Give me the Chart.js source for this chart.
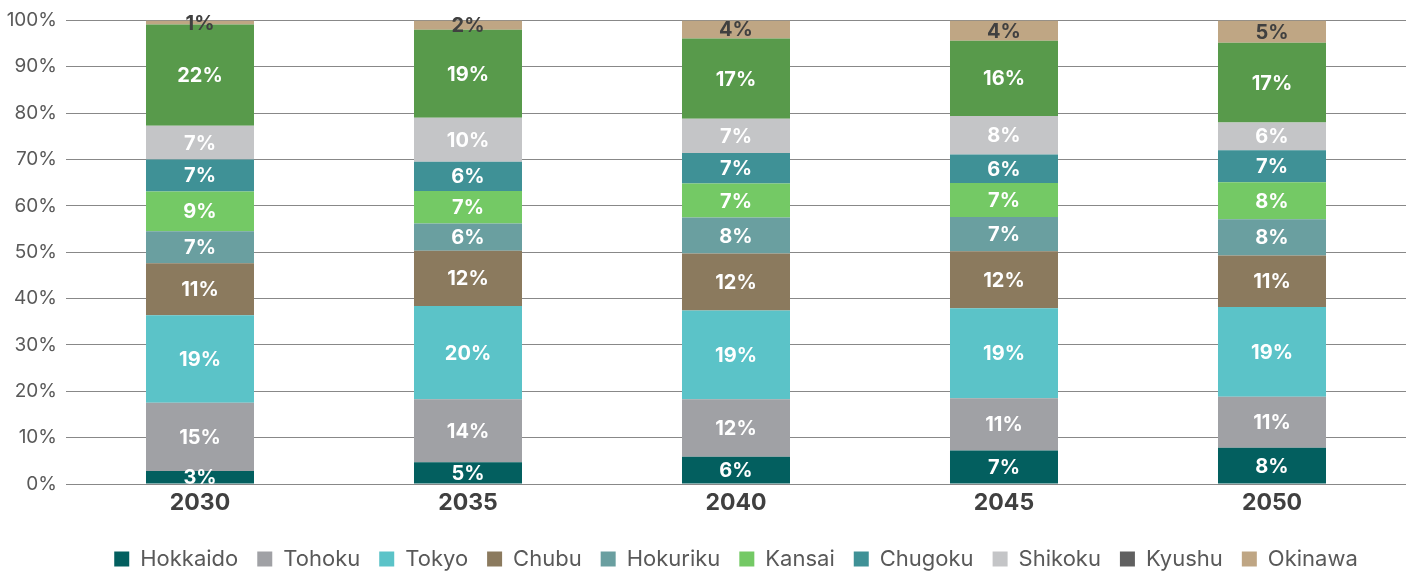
<!DOCTYPE html>
<html>
<head>
<meta charset="utf-8">
<script src="https://cdn.jsdelivr.net/npm/chart.js@4.4.1/dist/chart.umd.min.js"></script>
<style>
  html, body { margin: 0; padding: 0; background: #ffffff; }
  #wrap { width: 1416px; height: 574px; }
</style>
</head>
<body>
<div id="wrap"><canvas id="shareChart" width="1416" height="574"></canvas></div>
<script>
// Regional share per year (%), stacked to 100
const years = ['2030', '2035', '2040', '2045', '2050'];
const regions = ['Hokkaido', 'Tohoku', 'Tokyo', 'Chubu', 'Hokuriku', 'Kansai', 'Chugoku', 'Shikoku', 'Kyushu', 'Okinawa'];

const hokkaido = [2.8, 4.7, 5.9, 7.2, 7.8];
const tohoku   = [14.7, 13.6, 12.4, 11.3, 11.0];
const tokyo    = [18.9, 20.1, 19.1, 19.4, 19.4];
const chubu    = [11.2, 11.9, 12.3, 12.3, 11.1];
const hokuriku = [6.9, 5.9, 7.8, 7.4, 7.8];
const kansai   = [8.6, 7.0, 7.3, 7.3, 8.0];
const chugoku  = [6.9, 6.3, 6.6, 6.2, 6.9];
const shikoku  = [7.3, 9.5, 7.4, 8.3, 6.0];
const kyushu   = [21.8, 19.0, 17.3, 16.2, 17.2];
const okinawa  = [0.9, 2.0, 3.9, 4.4, 4.8];

const yTicks = [0, 10, 20, 30, 40, 50, 60, 70, 80, 90, 100];

const seriesValues = [hokkaido, tohoku, tokyo, chubu, hokuriku, kansai, chugoku, shikoku, kyushu, okinawa];
const barColors    = ['#035f5f', '#a0a1a5', '#5bc3c8', '#8b7a5e', '#6a9fa0', '#74c965', '#3f9196', '#c4c5c7', '#589a4b', '#bfa684'];
const legendColors = ['#035f5f', '#a0a1a5', '#5bc3c8', '#8b7a5e', '#6a9fa0', '#74c965', '#3f9196', '#c4c5c7', '#606060', '#bfa684'];
const labelColors  = ['#ffffff', '#ffffff', '#ffffff', '#ffffff', '#ffffff', '#ffffff', '#ffffff', '#ffffff', '#ffffff', '#404040'];

const datasets = regions.map((name, i) => ({
    label: name,
    data: seriesValues[i],
    backgroundColor: barColors[i],
    legendColor: legendColors[i],
    labelColor: labelColors[i],
    borderWidth: 0,
    categoryPercentage: 1.0,
    barPercentage: 0.403
}));

// percentage labels in the middle of each segment
const segmentLabels = {
    id: 'segmentLabels',
    afterDatasetsDraw(chart) {
        const ctx = chart.ctx;
        ctx.save();
        ctx.font = 'bold 20px Inter, "Noto Sans", sans-serif';
        ctx.textAlign = 'center';
        ctx.textBaseline = 'middle';
        chart.data.datasets.forEach((ds, i) => {
            const meta = chart.getDatasetMeta(i);
            meta.data.forEach((bar, j) => {
                const v = ds.data[j];
                const yMid = (bar.y + bar.base) / 2;
                ctx.fillStyle = ds.labelColor;
                ctx.fillText(Math.round(v) + '%', bar.x, yMid + 1);
            });
        });
        ctx.restore();
    }
};

const ctx = document.getElementById('shareChart').getContext('2d');
new Chart(ctx, {
    type: 'bar',
    data: { labels: years, datasets: datasets },
    options: {
        responsive: false,
        animation: false,
        layout: { padding: { top: 20, right: 10, left: 0, bottom: -6 } },
        scales: {
            x: {
                stacked: true,
                afterFit(scale) { scale.height = 45; },
                grid: { display: false, drawTicks: false },
                border: { display: false },
                ticks: {
                    color: '#404040',
                    font: { family: 'Inter, "Noto Sans", sans-serif', size: 23, weight: 'bold' },
                    padding: 5
                }
            },
            y: {
                stacked: true,
                min: 0,
                max: 100,
                afterBuildTicks(scale) {
                    scale.ticks = yTicks.map(v => ({ value: v }));
                },
                afterFit(scale) { scale.width = 66; },
                grid: { color: '#888888', lineWidth: 1, drawTicks: false },
                border: { display: false },
                ticks: {
                    color: '#595959',
                    padding: 9,
                    font: { family: 'Inter, "Noto Sans", sans-serif', size: 19 },
                    callback: v => v + '%'
                }
            }
        },
        plugins: {
            tooltip: { enabled: false },
            legend: {
                position: 'bottom',
                fullSize: false,
                labels: {
                    color: '#595959',
                    boxWidth: 15,
                    boxHeight: 15,
                    padding: 19,
                    font: { family: 'Inter, "Noto Sans", sans-serif', size: 22 },
                    generateLabels(chart) {
                        return chart.data.datasets.map((ds, i) => ({
                            text: ds.label,
                            fillStyle: ds.legendColor,
                            strokeStyle: ds.legendColor,
                            lineWidth: 0,
                            fontColor: '#595959',
                            hidden: false,
                            datasetIndex: i
                        }));
                    }
                }
            }
        }
    },
    plugins: [segmentLabels]
});
</script>
</body>
</html>
